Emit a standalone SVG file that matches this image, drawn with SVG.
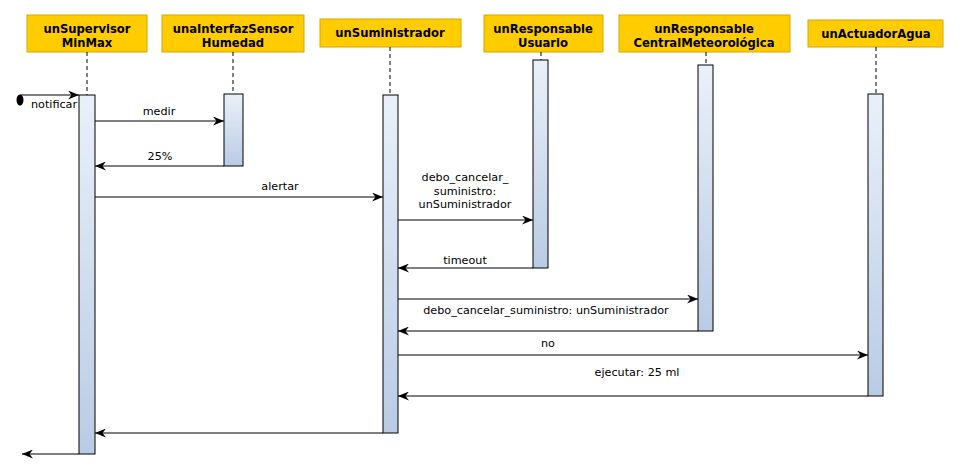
<svg xmlns="http://www.w3.org/2000/svg" width="960" height="471" viewBox="0 0 960 471">
<style>
.hdr{fill:#ffcc00;stroke:#d6a800;stroke-width:1}
.ht{font-family:"DejaVu Sans",sans-serif;font-weight:bold;font-size:11.6px;fill:#000;text-anchor:middle}
.lt{font-family:"DejaVu Sans",sans-serif;font-size:11.2px;fill:#000;text-anchor:middle}
.life{stroke:#000;stroke-width:1;stroke-dasharray:4,3;fill:none}
.bar{fill:url(#g);stroke:#000;stroke-width:1}
.msg{stroke:#000;stroke-width:1.2;fill:none;marker-end:url(#a)}
</style>
<defs>
<linearGradient id="g" x1="0" y1="0" x2="0" y2="1">
<stop offset="0" stop-color="#eaf0f9"/>
<stop offset="1" stop-color="#b9cbe4"/>
</linearGradient>
<marker id="a" viewBox="0 0 11 9" refX="11" refY="4.5" markerWidth="11" markerHeight="9" markerUnits="userSpaceOnUse" orient="auto">
<path d="M0,0 L11,4.5 L0,9 L3.5,4.5 Z" fill="#000"/>
</marker>
</defs>
<rect width="960" height="471" fill="#fff"/>
<g id="supervisor">
<rect class="hdr" x="27" y="15" width="120" height="37"/>
<text class="ht" x="87" y="33">unSupervisor</text>
<text class="ht" x="87" y="47">MinMax</text>
<line class="life" x1="87" y1="52" x2="87" y2="95"/>
<rect class="bar" x="79" y="95" width="16" height="359"/>
</g>
<g id="interfaz">
<rect class="hdr" x="162" y="15" width="142" height="37"/>
<text class="ht" x="233" y="33">unaInterfazSensor</text>
<text class="ht" x="233" y="47">Humedad</text>
<line class="life" x1="233" y1="52" x2="233" y2="94"/>
<rect class="bar" x="224" y="94" width="19" height="72"/>
</g>
<g id="suministrador">
<rect class="hdr" x="320" y="19" width="141" height="28"/>
<text class="ht" x="390" y="37">unSuministrador</text>
<line class="life" x1="390" y1="47" x2="390" y2="95"/>
<rect class="bar" x="383" y="95" width="15" height="338"/>
</g>
<g id="usuario">
<rect class="hdr" x="484" y="15" width="119" height="37"/>
<text class="ht" x="543" y="33">unResponsable</text>
<text class="ht" x="543" y="47">Usuario</text>
<line class="life" x1="541" y1="52" x2="541" y2="60"/>
<rect class="bar" x="533" y="60" width="15" height="208"/>
</g>
<g id="central">
<rect class="hdr" x="619" y="15" width="171" height="37"/>
<text class="ht" x="704" y="33">unResponsable</text>
<text class="ht" x="704" y="47">CentralMeteorológica</text>
<line class="life" x1="706" y1="52" x2="706" y2="65"/>
<rect class="bar" x="698" y="65" width="15" height="266"/>
</g>
<g id="actuador">
<rect class="hdr" x="808" y="20" width="135" height="27"/>
<text class="ht" x="876" y="38">unActuadorAgua</text>
<line class="life" x1="876" y1="47" x2="876" y2="94"/>
<rect class="bar" x="868" y="94" width="15" height="302"/>
</g>
<g id="connectors">
<ellipse cx="20" cy="100" rx="3.5" ry="5.5" fill="#000"/>
<path class="msg" d="M20,95 H79"/>
<text class="lt" x="54" y="108">notificar</text>
<path class="msg" d="M95,121 H224"/>
<text class="lt" x="159" y="115">medir</text>
<path class="msg" d="M224,166 H95"/>
<text class="lt" x="160" y="160">25%</text>
<path class="msg" d="M95,197 H383"/>
<text class="lt" x="280" y="190">alertar</text>
<path class="msg" d="M398,220 H533"/>
<text class="lt" x="465" y="181">debo_cancelar_</text>
<text class="lt" x="465" y="195">suministro:</text>
<text class="lt" x="465" y="208">unSuministrador</text>
<path class="msg" d="M533,268 H398"/>
<text class="lt" x="465" y="264">timeout</text>
<path class="msg" d="M398,299 H698"/>
<text class="lt" x="546" y="314">debo_cancelar_suministro: unSuministrador</text>
<path class="msg" d="M698,331 H398"/>
<path class="msg" d="M398,355 H868"/>
<text class="lt" x="548" y="347">no</text>
<path class="msg" d="M868,396 H398"/>
<text class="lt" x="637" y="376">ejecutar: 25 ml</text>
<path class="msg" d="M383,433 H95"/>
<path class="msg" d="M79,454 H22"/>
</g>
</svg>
